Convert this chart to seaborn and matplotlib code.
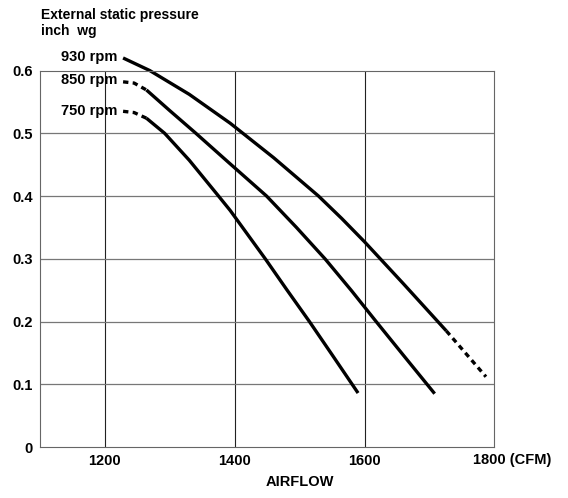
import matplotlib
matplotlib.use("Agg")
import matplotlib.pyplot as plt
import seaborn as sns
import pandas as pd

# ---- data ----
rpm_labels = ["930 rpm", "850 rpm", "750 rpm"]

cfm_930_solid = [1228, 1269, 1330, 1393, 1460, 1529, 1565, 1600, 1660, 1726]
esp_930_solid = [0.620, 0.600, 0.562, 0.516, 0.461, 0.400, 0.364, 0.327, 0.260, 0.185]
cfm_930_dash = [1726, 1787]
esp_930_dash = [0.185, 0.112]

cfm_850_dash = [1228, 1245, 1264]
esp_850_dash = [0.582, 0.580, 0.569]
cfm_850_solid = [1264, 1300, 1339, 1390, 1449, 1495, 1539, 1580, 1617, 1660, 1708]
esp_850_solid = [0.569, 0.536, 0.501, 0.454, 0.400, 0.350, 0.300, 0.249, 0.201, 0.146, 0.085]

cfm_750_dash = [1228, 1245, 1264]
esp_750_dash = [0.535, 0.533, 0.524]
cfm_750_solid = [1264, 1292, 1330, 1375, 1393, 1447, 1480, 1515, 1550, 1590]
esp_750_solid = [0.524, 0.500, 0.457, 0.400, 0.377, 0.300, 0.251, 0.200, 0.147, 0.086]

x_ticks = [1200, 1400, 1600, 1800]
x_tick_labels = ["1200", "1400", "1600", ""]
y_ticks = [0, 0.1, 0.2, 0.3, 0.4, 0.5, 0.6]
y_tick_labels = ["0", "0.1", "0.2", "0.3", "0.4", "0.5", "0.6"]

# ---- figure ----
sns.set_theme(style="white")
plt.rcParams["font.family"] = ["Liberation Sans", "DejaVu Sans"]
plt.rcParams["font.weight"] = "bold"
plt.rcParams["text.color"] = "black"

fig = plt.figure(figsize=(5.68, 4.98), dpi=100)
ax = fig.add_axes([0.0704, 0.1024, 0.800, 0.756])

segments = [
    (cfm_930_solid, esp_930_solid, "-"),
    (cfm_930_dash, esp_930_dash, "--"),
    (cfm_850_dash, esp_850_dash, "--"),
    (cfm_850_solid, esp_850_solid, "-"),
    (cfm_750_dash, esp_750_dash, "--"),
    (cfm_750_solid, esp_750_solid, "-"),
]
for xs, ys, ls in segments:
    df = pd.DataFrame({"cfm": xs, "esp": ys})
    sns.lineplot(data=df, x="cfm", y="esp", ax=ax, color="black",
                 lw=2.4, sort=False, estimator=None, clip_on=False,
                 solid_capstyle="butt", solid_joinstyle="round")
    l = ax.lines[-1]
    if ls == "--":
        l.set_dashes((1.6, 1.3))

ax.set_xlim(1100, 1800)
ax.set_ylim(0, 0.6)
ax.set_xticks(x_ticks)
ax.set_xticklabels(x_tick_labels, fontweight="bold")
ax.set_yticks(y_ticks)
ax.set_yticklabels(y_tick_labels, fontweight="bold")
ax.tick_params(axis="both", length=0, labelsize=10.5, colors="black", labelcolor="black")
ax.tick_params(axis="x", pad=5)
ax.tick_params(axis="y", pad=5)
ax.set_xlabel("")
ax.set_ylabel("")

# grid
for t in [1200, 1400, 1600]:
    ax.axvline(t, color="#222222", lw=0.8, zorder=0)
for t in [0.1, 0.2, 0.3, 0.4, 0.5]:
    ax.axhline(t, color="#777777", lw=0.9, zorder=0)
for s in ax.spines.values():
    s.set_color("#666666")
    s.set_linewidth(0.8)

# rpm labels
ax.text(1219, 0.622, rpm_labels[0], ha="right", va="center", fontsize=10.5, clip_on=False)
ax.text(1219, 0.585, rpm_labels[1], ha="right", va="center", fontsize=10.5, clip_on=False)
ax.text(1219, 0.535, rpm_labels[2], ha="right", va="center", fontsize=10.5, clip_on=False)

# axis titles
fig.text(41 / 568, 1 - 15 / 498, "External static pressure", ha="left", va="center", fontsize=10)
fig.text(41 / 568, 1 - 31.5 / 498, "inch  wg", ha="left", va="center", fontsize=10)
ax.text(1500, -0.056, "AIRFLOW", ha="center", va="center", fontsize=10.5, clip_on=False)
ax.text(1767, -0.0215, "1800 (CFM)", ha="left", va="center", fontsize=10.5, clip_on=False)

fig.savefig("out.png", dpi=100)
